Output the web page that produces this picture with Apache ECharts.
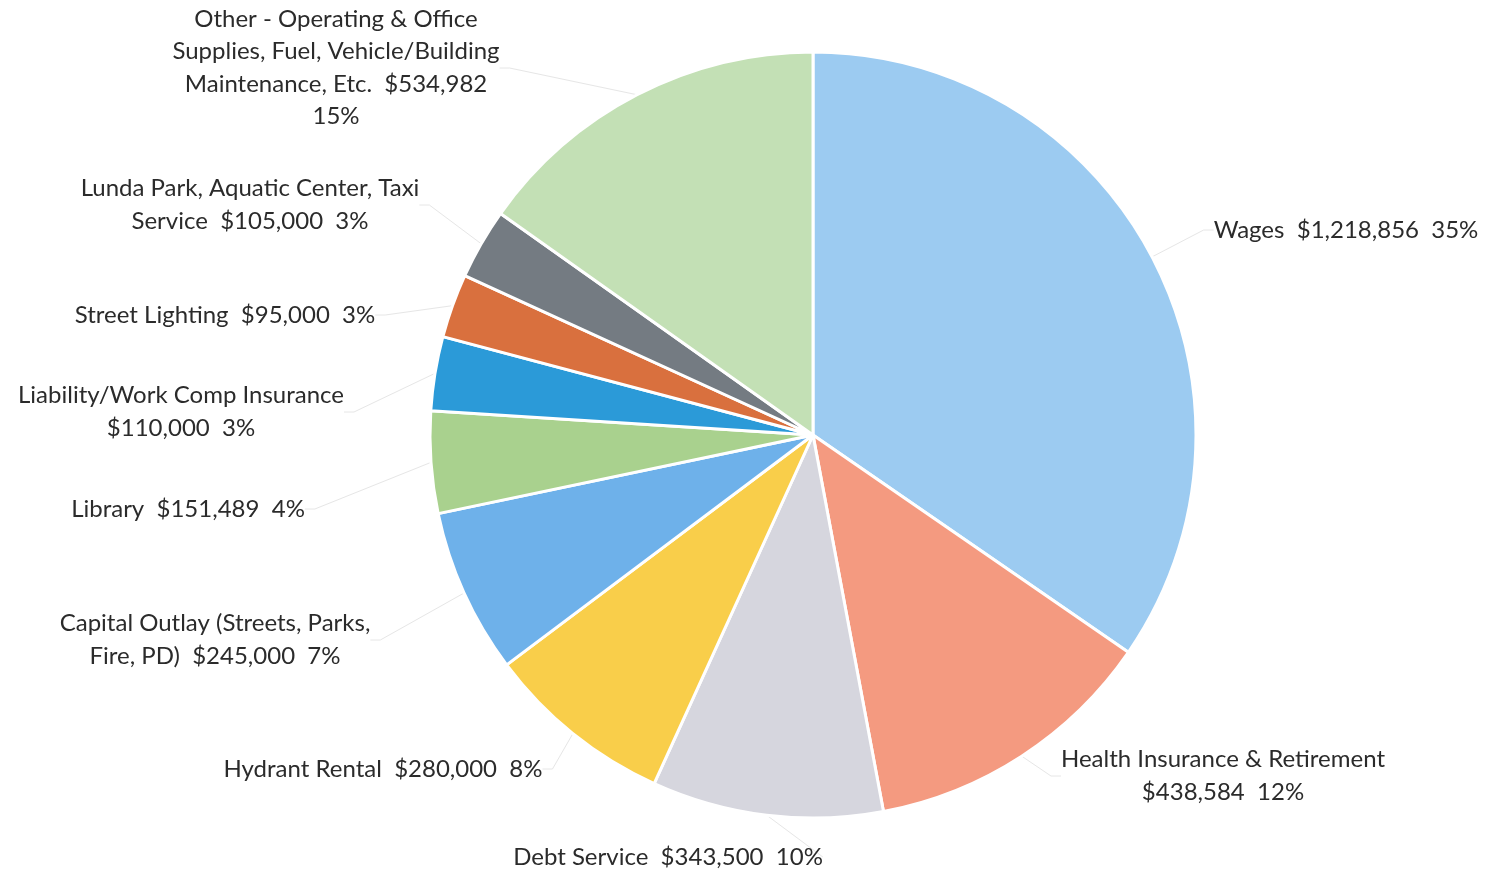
<!DOCTYPE html>
<html>
<head>
<meta charset="utf-8">
<script src="https://cdn.jsdelivr.net/npm/echarts@6/dist/echarts.min.js"></script>
<style>
html,body{margin:0;padding:0;background:#fff;}
#chart{width:1485px;height:870px;}
</style>
</head>
<body>
<div id="chart"></div>
<script>
const categories = [
  "Wages",
  "Health Insurance & Retirement",
  "Debt Service",
  "Hydrant Rental",
  "Capital Outlay (Streets, Parks, Fire, PD)",
  "Library",
  "Liability/Work Comp Insurance",
  "Street Lighting",
  "Lunda Park, Aquatic Center, Taxi Service",
  "Other - Operating & Office Supplies, Fuel, Vehicle/Building Maintenance, Etc."
];
const values = [1218856, 438584, 343500, 280000, 245000, 151489, 110000, 95000, 105000, 534982];
const percentLabels = ["35%", "12%", "10%", "8%", "7%", "4%", "3%", "3%", "3%", "15%"];
const labelTexts = [
  "Wages  $1,218,856  35%",
  "Health Insurance & Retirement\n$438,584  12%",
  "Debt Service  $343,500  10%",
  "Hydrant Rental  $280,000  8%",
  "Capital Outlay (Streets, Parks,\nFire, PD)  $245,000  7%",
  "Library  $151,489  4%",
  "Liability/Work Comp Insurance\n$110,000  3%",
  "Street Lighting  $95,000  3%",
  "Lunda Park, Aquatic Center, Taxi\nService  $105,000  3%",
  "Other - Operating & Office\nSupplies, Fuel, Vehicle/Building\nMaintenance, Etc.  $534,982\n15%"
];
const colors = ["#9CCBF1", "#F49A80", "#D6D6DE", "#F9CE4A", "#6EB1EA", "#A9D18E", "#2B9AD8", "#D9703E", "#747B82", "#C3E0B5"];
// label anchor positions (center of label block), layout only
const labelPos = [
  [1346, 230], [1223, 776], [668, 857], [383, 769], [215, 640],
  [188, 509], [181, 412], [225, 315], [250, 205], [336, 68]
];

const chart = echarts.init(document.getElementById('chart'));
chart.setOption({
  animation: false,
  backgroundColor: '#fff',
  series: [{
    type: 'pie',
    center: [813, 435],
    radius: 383,
    startAngle: 90,
    clockwise: true,
    avoidLabelOverlap: false,
    data: categories.map((c, i) => ({
      name: c, value: values[i],
      itemStyle: { color: colors[i] },
      label: { formatter: labelTexts[i] }
    })),
    itemStyle: { borderColor: '#ffffff', borderWidth: 3 },
    label: {
      show: true,
      position: 'outside',
      color: '#2b2b2b',
      fontFamily: 'Lato, "Open Sans", sans-serif',
      fontSize: 24,
      lineHeight: 32.5,
      align: 'center'
    },
    labelLine: {
      show: true,
      length: 10,
      length2: 10,
      lineStyle: { color: '#e6e6e6', width: 1 }
    },
    labelLayout: function (params) {
      const p = labelPos[params.dataIndex];
      return {
        x: p[0],
        y: p[1],
        align: 'center',
        verticalAlign: 'middle'
      };
    }
  }]
});
</script>
</body>
</html>
